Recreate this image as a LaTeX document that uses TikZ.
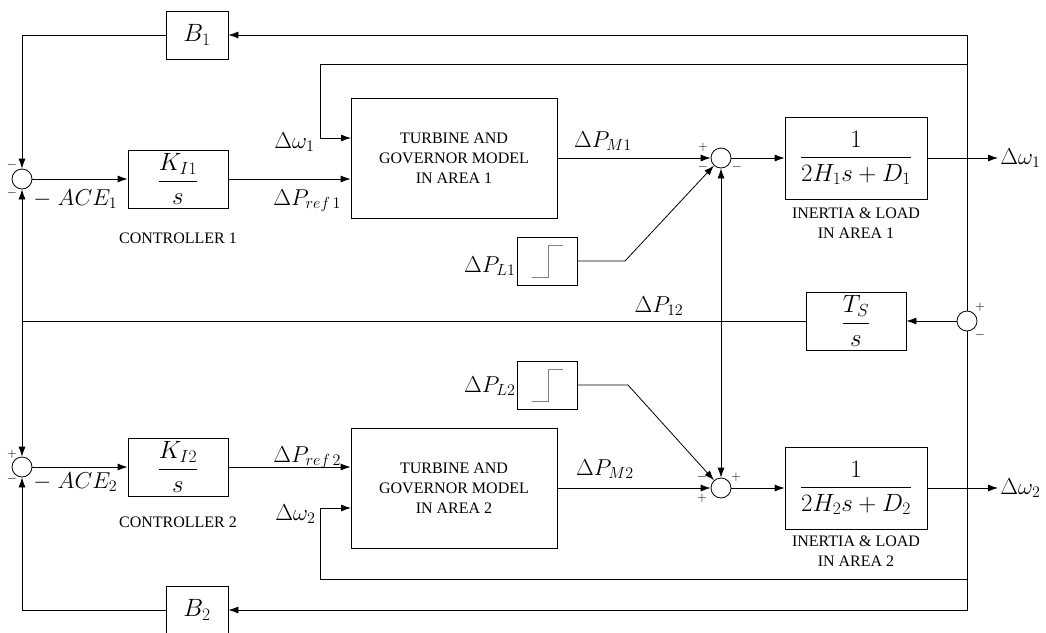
\documentclass[tikz,border=0pt]{standalone}
\usepackage{fix-cm}
\usepackage{amsmath}
\usepackage{fontspec}
\setmainfont{Liberation Serif}
\usetikzlibrary{arrows.meta,positioning,calc}

\begin{document}
\begin{tikzpicture}[x=1pt, y=-1pt, line width=0.8pt,
    blk/.style={draw, inner sep=0pt, font=\fontsize{25}{29}\selectfont},
    sumnode/.style={draw, circle, minimum size=20pt, inner sep=0pt},
    sgn/.style={inner sep=0pt, font=\fontsize{13}{13}\selectfont},
    lbl/.style={inner sep=0pt, font=\fontsize{23}{27}\selectfont},
    note/.style={align=center, inner sep=0pt, font=\fontsize{16}{20}\selectfont},
    arr/.style={-{Latex[length=10pt,width=7pt]}}]
  \useasboundingbox (0,0) rectangle (1046,632);

  % area 1
  \node[sumnode] (sA) at (22,179) {};
  \node[blk, minimum width=100, minimum height=58] (kA) at (178,179) {$\displaystyle\frac{K_{I1}}{s}$};
  \node[blk, note, minimum width=206, minimum height=120] (gA) at (454,158) {TURBINE AND\\GOVERNOR MODEL\\IN AREA 1};
  \node[sumnode] (sB) at (721,158) {};
  \node[blk, minimum width=142, minimum height=82] (hA) at (856,158) {$\displaystyle\frac{1}{2H_1s+D_1}$};
  \node[blk, minimum width=62, minimum height=48] (bA) at (197,35) {$B_1$};
  \node[blk, minimum width=60, minimum height=48] (pA) at (547,261) {};
  \node[note] (nkA) at (178,238) {CONTROLLER 1};
  \node[note] (nhA) at (856,223) {INERTIA \& LOAD\\IN AREA 1};

  % tie line
  \node[blk, minimum width=100, minimum height=58] (ts) at (856,321) {$\displaystyle\frac{T_S}{s}$};
  \node[sumnode] (sT) at (967,321) {};

  % area 2
  \node[sumnode] (sC) at (22,467) {};
  \node[blk, minimum width=100, minimum height=58] (kB) at (178,467) {$\displaystyle\frac{K_{I2}}{s}$};
  \node[blk, note, minimum width=206, minimum height=120] (gB) at (454,488) {TURBINE AND\\GOVERNOR MODEL\\IN AREA 2};
  \node[sumnode] (sD) at (721,488) {};
  \node[blk, minimum width=142, minimum height=82] (hB) at (856,488) {$\displaystyle\frac{1}{2H_2s+D_2}$};
  \node[blk, minimum width=62, minimum height=48] (bB) at (197,610) {$B_2$};
  \node[blk, minimum width=60, minimum height=48] (pB) at (547,385) {};
  \node[note] (nkB) at (178,522) {CONTROLLER 2};
  \node[note] (nhB) at (856,551) {INERTIA \& LOAD\\IN AREA 2};

  \draw[gray, line width=1pt] ($(pA)+(-15,16)$) -- ++(16,0) -- ++(0,-32) -- ++(15,0);
  \draw[gray, line width=1pt] ($(pB)+(-15,16)$) -- ++(16,0) -- ++(0,-32) -- ++(15,0);

  \coordinate (jA) at (967,158);
  \coordinate (jB) at (967,488);
  \coordinate (fA) at (967,64);
  \coordinate (fB) at (967,579);
  \coordinate (cA) at (320,64);
  \coordinate (cB) at (320,579);
  \coordinate (uA) at (351,138);
  \coordinate (uB) at (351,508);
  \coordinate (jL) at (22,321);
  \coordinate (jM) at (721,321);
  \coordinate (mA) at (625,261);
  \coordinate (mB) at (628,385);
  \coordinate (oA) at (998,158);
  \coordinate (oB) at (998,488);

  \draw[arr] (sA) -- (kA);
  \draw[arr] (kA) -- (kA -| gA.west);
  \draw[arr] (gA) -- (sB);
  \draw[arr] (sB) -- (hA);
  \draw[arr] (hA) -- (oA);
  \draw[arr] (pA) -- (mA) -- (sB);
  \draw[arr] (jA) |- (bA);
  \draw[arr] (bA) -| (sA);
  \draw[arr] (fA) -- (cA) |- (uA);

  \draw (jA) -- (sT);
  \draw (jB) -- (sT);
  \draw[arr] (sT) -- (ts);
  \draw (ts) -- (jL);
  \draw[arr] (jL) -- (sA);
  \draw[arr] (jL) -- (sC);
  \draw[arr] (jM) -- (sB);
  \draw[arr] (jM) -- (sD);

  \draw[arr] (sC) -- (kB);
  \draw[arr] (kB) -- (kB -| gB.west);
  \draw[arr] (gB) -- (sD);
  \draw[arr] (sD) -- (hB);
  \draw[arr] (hB) -- (oB);
  \draw[arr] (pB) -- (mB) -- (sD);
  \draw[arr] (jB) |- (bB);
  \draw[arr] (bB) -| (sC);
  \draw[arr] (fB) -- (cB) |- (uB);

  % labels
  \node[lbl, anchor=base east] (lwA) at (315,148) {$\Delta\omega_1$};
  \node[lbl, anchor=base west] (lrA) at (273,205) {$\Delta P_{ref\,1}$};
  \node[lbl, anchor=base] (lmA) at (603,147) {$\Delta P_{M1}$};
  \node[lbl, anchor=base east] (llA) at (516,272) {$\Delta P_{L1}$};
  \node[lbl, anchor=base west] (leA) at (33,205) {$-\;ACE_1$};
  \node[lbl, anchor=base west] (loA) at (1000,164) {$\Delta\omega_1$};
  \node[lbl, anchor=base] (l12) at (659,312) {$\Delta P_{12}$};
  \node[lbl, anchor=base east] (lwB) at (316,520) {$\Delta\omega_2$};
  \node[lbl, anchor=base west] (lrB) at (273,462) {$\Delta P_{ref\,2}$};
  \node[lbl, anchor=base] (lmB) at (605,475) {$\Delta P_{M2}$};
  \node[lbl, anchor=base east] (llB) at (516,392) {$\Delta P_{L2}$};
  \node[lbl, anchor=base west] (leB) at (33,488) {$-\;ACE_2$};
  \node[lbl, anchor=base west] (loB) at (1000,494) {$\Delta\omega_2$};

  % signs
  \node[sgn] (gA1) at (12,165) {$-$};
  \node[sgn] (gA2) at (12,193) {$-$};
  \node[sgn] (gB1) at (703,147) {$+$};
  \node[sgn] (gB2) at (703,167) {$-$};
  \node[sgn] (gB3) at (737,167) {$-$};
  \node[sgn] (gT1) at (980,307) {$+$};
  \node[sgn] (gT2) at (980,335) {$-$};
  \node[sgn] (gC1) at (12,454) {$+$};
  \node[sgn] (gC2) at (12,479) {$-$};
  \node[sgn] (gD1) at (702,477) {$-$};
  \node[sgn] (gD2) at (702,498) {$+$};
  \node[sgn] (gD3) at (736,477) {$+$};
\end{tikzpicture}
\end{document}
